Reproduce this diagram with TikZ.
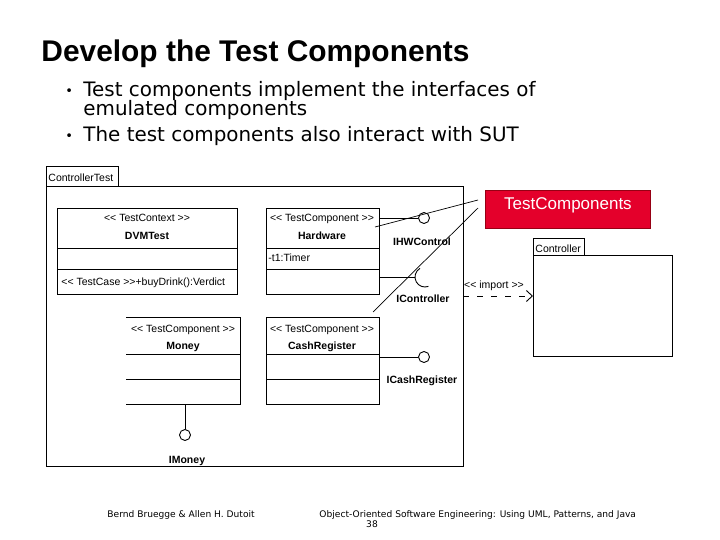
\documentclass[tikz,border=0pt]{standalone}
\usepackage{fontspec}
\setmainfont{Liberation Sans}
\newfontfamily\slidefont{DejaVu Sans}
\usetikzlibrary{calc}
\usetikzlibrary{calc,arrows.meta}
\definecolor{tcred}{RGB}{228,0,43}
\definecolor{tcborder}{RGB}{150,0,20}
\newcommand{\lsh}{<\kern0pt<}
\newcommand{\rsh}{>\kern0pt>}

\begin{document}
\begin{tikzpicture}[x=1pt,y=-1pt,line width=0.9pt,
  box/.style={draw,inner sep=0pt,anchor=north west},
  uml/.style={inner sep=0pt,anchor=base,font=\fontsize{10.5}{12}\selectfont},
  umlname/.style={uml,font=\bfseries\fontsize{10.5}{12}\selectfont},
  iface/.style={draw,circle,inner sep=0pt,minimum size=11},
  slide/.style={inner sep=0pt,anchor=base west,font=\slidefont\fontsize{19.9}{20}\selectfont},
  foot/.style={inner sep=0pt,anchor=base west,font=\slidefont\fontsize{9.1}{10}\selectfont}]
  \useasboundingbox (0,0) rectangle (720,540);
  % title and bullets
  \node[inner sep=0pt,anchor=base west,font=\bfseries\fontsize{29.9}{30}\selectfont] (title) at (41,62) {Develop the Test Components};
  \node[slide,font=\slidefont\fontsize{13}{13}\selectfont] (dot1) at (65,96) {•};
  \node[slide] (line1) at (83,97) {Test components implement the interfaces of};
  \node[slide] (line2) at (83,116) {emulated components};
  \node[slide,font=\slidefont\fontsize{13}{13}\selectfont] (dot2) at (65,141) {•};
  \node[slide] (line3) at (83,142) {The test components also interact with SUT};

  % package ControllerTest
  \node[box,minimum width=72,minimum height=20] (cttab) at (46,166) {};
  \node[uml,anchor=base west] (ctname) at (48,182) {ControllerTest};
  \node[box,minimum width=417,minimum height=280] (ctbody) at (46,186) {};

  % classes
  \node[box,minimum width=180,minimum height=86] (dvm) at (57,208) {};
  \draw ($(dvm.north west)+(0,40)$) -- ($(dvm.north east)+(0,40)$);
  \draw ($(dvm.north west)+(0,61)$) -- ($(dvm.north east)+(0,61)$);
  \node[uml] (dvmst) at (147,222) {\lsh{} TestContext \rsh};
  \node[umlname] (dvmnm) at (147,240) {DVMTest};
  \node[uml,anchor=base west] (dvmop) at (61,285) {\lsh{} TestCase \rsh+buyDrink():Verdict};

  \node[box,minimum width=113,minimum height=86] (hw) at (266,208) {};
  \draw ($(hw.north west)+(0,40)$) -- ($(hw.north east)+(0,40)$);
  \draw ($(hw.north west)+(0,61)$) -- ($(hw.north east)+(0,61)$);
  \node[uml] (hwst) at (322,222) {\lsh{} TestComponent \rsh};
  \node[umlname] (hwnm) at (322,240) {Hardware};
  \node[uml,anchor=base west] (hwatt) at (268,261) {-t1:Timer};

  \node[box,draw=none,minimum width=114,minimum height=87] (money) at (126,317) {};
  \draw (money.north west) -- (money.north east) -- (money.south east) -- (money.south west);
  \draw ($(money.north west)+(0,37)$) -- ($(money.north east)+(0,37)$);
  \draw ($(money.north west)+(0,62)$) -- ($(money.north east)+(0,62)$);
  \node[uml] (moneyst) at (183,332) {\lsh{} TestComponent \rsh};
  \node[umlname] (moneynm) at (183,349) {Money};

  \node[box,minimum width=113,minimum height=87] (cash) at (266,317) {};
  \draw ($(cash.north west)+(0,37)$) -- ($(cash.north east)+(0,37)$);
  \draw ($(cash.north west)+(0,62)$) -- ($(cash.north east)+(0,62)$);
  \node[uml] (cashst) at (322,332) {\lsh{} TestComponent \rsh};
  \node[umlname] (cashnm) at (322,349) {CashRegister};

  % interfaces
  \node[iface] (ihw) at (424,218) {};
  \draw (hw.east |- ihw) -- (ihw);
  \node[umlname] (ihwlab) at (422,245) {IHWControl};

  \coordinate (ictl) at (425,277);
  \draw (hw.east |- ictl) -- ($(ictl)+(-10,0)$);
  \draw ($(ictl)+(240:10)$) arc[start angle=240,end angle=70,radius=10];
  \node[umlname] (ictllab) at (423,302) {IController};

  \node[iface] (icash) at (424,357) {};
  \draw (cash.east |- icash) -- (icash);
  \node[umlname] (icashlab) at (422,383) {ICashRegister};

  \node[iface] (imoney) at (185,435) {};
  \draw (money.south -| imoney) -- (imoney);
  \node[umlname] (imoneylab) at (187,463) {IMoney};

  % note
  \node[box,draw=tcborder,fill=tcred,minimum width=165,minimum height=38] (tc) at (485,190) {};
  \node[inner sep=0pt,anchor=base,text=white,font=\fontsize{17}{18}\selectfont] (tclab) at (tc.center |- 0,210) {TestComponents};
  \coordinate (tcup) at (478,200);
  \coordinate (tclow) at (478,208);
  \coordinate (ihwfoot) at (375,227);
  \coordinate (ictlfoot) at (373,312);
  \draw[line width=0.7pt] (ihwfoot) -- (tcup);
  \draw[line width=0.7pt] (ictlfoot) -- (tclow);

  % package Controller
  \node[box,minimum width=51,minimum height=17] (ctrltab) at (533,238) {};
  \node[uml,anchor=base west] (ctrlname) at (535,252) {Controller};
  \node[box,minimum width=139,minimum height=101] (ctrl) at (533,255) {};

  \coordinate (imp) at (463,296);
  \draw[dash pattern=on 6pt off 8pt,-{Straight Barb[length=6pt,width=11pt]}] (imp) -- (ctrl.west |- imp);
  \node[uml] (implab) at (494,288) {\lsh{} import \rsh};

  % footer
  \node[foot] (auth) at (107,517) {Bernd Bruegge \& Allen H. Dutoit};
  \node[foot] (book) at (319,517) {Object-Oriented Software Engineering: Using UML, Patterns, and Java};
  \node[foot,anchor=base] (page) at (372,527) {38};
\end{tikzpicture}
\end{document}
